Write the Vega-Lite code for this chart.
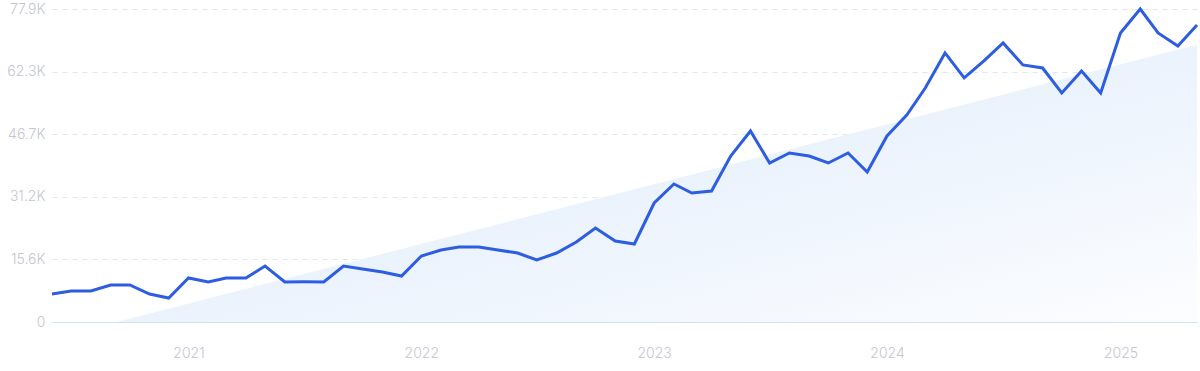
{
  "$schema": "https://vega.github.io/schema/vega-lite/v6.json",
  "width": 1145,
  "height": 313,
  "autosize": "none",
  "padding": {"left": 52, "top": 9, "right": 3, "bottom": 49},
  "background": "#ffffff",
  "config": {
    "view": {"stroke": null},
    "font": "Inter",
    "axis": {"labelFont": "Inter", "labelFontSize": 14, "labelFontWeight": 300, "labelColor": "#c3c6cf", "ticks": false, "title": null}
  },
  "datasets": {
    "series": [
      {"date": "2020-06-01T00:00:00", "value": 6970},
      {"date": "2020-07-01T00:00:00", "value": 7716},
      {"date": "2020-08-01T00:00:00", "value": 7716},
      {"date": "2020-09-01T00:00:00", "value": 9209},
      {"date": "2020-10-01T00:00:00", "value": 9209},
      {"date": "2020-11-01T00:00:00", "value": 6970},
      {"date": "2020-12-01T00:00:00", "value": 5974},
      {"date": "2021-01-01T00:00:00", "value": 10950},
      {"date": "2021-02-01T00:00:00", "value": 9956},
      {"date": "2021-03-01T00:00:00", "value": 10950},
      {"date": "2021-04-01T00:00:00", "value": 10950},
      {"date": "2021-05-01T00:00:00", "value": 13940},
      {"date": "2021-06-01T00:00:00", "value": 9956},
      {"date": "2021-07-01T00:00:00", "value": 10000},
      {"date": "2021-08-01T00:00:00", "value": 9956},
      {"date": "2021-09-01T00:00:00", "value": 13940},
      {"date": "2021-10-01T00:00:00", "value": 13200},
      {"date": "2021-11-01T00:00:00", "value": 12450},
      {"date": "2021-12-01T00:00:00", "value": 11450},
      {"date": "2022-01-01T00:00:00", "value": 16430},
      {"date": "2022-02-01T00:00:00", "value": 17920},
      {"date": "2022-03-01T00:00:00", "value": 18670},
      {"date": "2022-04-01T00:00:00", "value": 18670},
      {"date": "2022-05-01T00:00:00", "value": 17900},
      {"date": "2022-06-01T00:00:00", "value": 17170},
      {"date": "2022-07-01T00:00:00", "value": 15430},
      {"date": "2022-08-01T00:00:00", "value": 17170},
      {"date": "2022-09-01T00:00:00", "value": 19910},
      {"date": "2022-10-01T00:00:00", "value": 23400},
      {"date": "2022-11-01T00:00:00", "value": 20160},
      {"date": "2022-12-01T00:00:00", "value": 19410},
      {"date": "2023-01-01T00:00:00", "value": 29620},
      {"date": "2023-02-01T00:00:00", "value": 34350},
      {"date": "2023-03-01T00:00:00", "value": 32110},
      {"date": "2023-04-01T00:00:00", "value": 32600},
      {"date": "2023-05-01T00:00:00", "value": 41320},
      {"date": "2023-06-01T00:00:00", "value": 47540},
      {"date": "2023-07-01T00:00:00", "value": 39580},
      {"date": "2023-08-01T00:00:00", "value": 42060},
      {"date": "2023-09-01T00:00:00", "value": 41320},
      {"date": "2023-10-01T00:00:00", "value": 39580},
      {"date": "2023-11-01T00:00:00", "value": 42060},
      {"date": "2023-12-01T00:00:00", "value": 37340},
      {"date": "2024-01-01T00:00:00", "value": 46300},
      {"date": "2024-02-01T00:00:00", "value": 51520},
      {"date": "2024-03-01T00:00:00", "value": 58240},
      {"date": "2024-04-01T00:00:00", "value": 66960},
      {"date": "2024-05-01T00:00:00", "value": 60740},
      {"date": "2024-06-01T00:00:00", "value": 64970},
      {"date": "2024-07-01T00:00:00", "value": 69450},
      {"date": "2024-08-01T00:00:00", "value": 63970},
      {"date": "2024-09-01T00:00:00", "value": 63220},
      {"date": "2024-10-01T00:00:00", "value": 57000},
      {"date": "2024-11-01T00:00:00", "value": 62470},
      {"date": "2024-12-01T00:00:00", "value": 57000},
      {"date": "2025-01-01T00:00:00", "value": 71930},
      {"date": "2025-02-01T00:00:00", "value": 77900},
      {"date": "2025-03-01T00:00:00", "value": 71930},
      {"date": "2025-04-01T00:00:00", "value": 68700},
      {"date": "2025-05-01T00:00:00", "value": 73920}
    ],
    "trend": [
      {"date": "2020-09-11T00:00:00", "trend": 0},
      {"date": "2025-05-01T00:00:00", "trend": 69000}
    ]
  },
  "layer": [
    {
      "data": {"name": "trend"},
      "mark": {
        "type": "area",
        "fill": {
          "gradient": "linear",
          "x1": 0, "y1": 0, "x2": 1, "y2": 1,
          "stops": [
            {"offset": 0, "color": "#d9e8fa"},
            {"offset": 1, "color": "#fcfdff"}
          ]
        }
      },
      "encoding": {
        "x": {
          "field": "date", "type": "temporal",
          "scale": {"domain": ["2020-06-01T00:00:00", "2025-05-01T00:00:00"]},
          "axis": {
            "values": [{"year": 2021}, {"year": 2022}, {"year": 2023}, {"year": 2024}, {"year": 2025}],
            "format": "%Y",
            "grid": false,
            "domain": true,
            "domainColor": "#cfe3f8",
            "domainWidth": 1,
            "labelPadding": 24
          }
        },
        "y": {
          "field": "trend", "type": "quantitative",
          "scale": {"domain": [0, 77900], "nice": false},
          "axis": {
            "values": [0, 15580, 31160, 46740, 62320, 77900],
            "labelExpr": "datum.value == 0 ? '0' : format(datum.value / 1000, '.1f') + 'K'",
            "domain": false,
            "grid": true,
            "gridColor": "#dde7f4",
            "gridDash": [5, 5],
            "gridWidth": 1,
            "labelPadding": 7
          }
        }
      }
    },
    {
      "data": {"name": "series"},
      "mark": {"type": "line", "color": "#2d5de0", "strokeWidth": 3},
      "encoding": {
        "x": {"field": "date", "type": "temporal"},
        "y": {"field": "value", "type": "quantitative"}
      }
    }
  ]
}
